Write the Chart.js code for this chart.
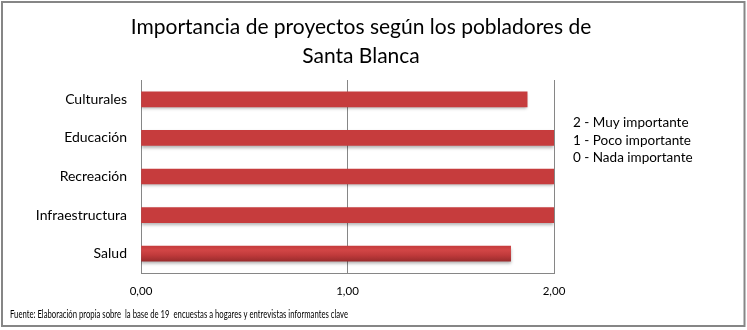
<!DOCTYPE html>
<html>
<head>
<meta charset="utf-8">
<script src="https://cdn.jsdelivr.net/npm/chart.js@4"></script>
<style>
  body { margin: 0; background: #fff; }
  canvas { display: block; }
</style>
</head>
<body>
<canvas id="chart" width="747" height="330"></canvas>
<script>
const categories = ["Culturales", "Educación", "Recreación", "Infraestructura", "Salud"];
const values = [1.87, 2.00, 2.00, 2.00, 1.79];
const xTickLabels = ["0,00", "1,00", "2,00"];
const titleLines = ["Importancia de proyectos según los pobladores de", "Santa Blanca"];
const legendLines = ["2 - Muy importante", "1 - Poco importante", "0 - Nada importante"];
const footnote = "Fuente: Elaboración propia sobre  la base de 19  encuestas a hogares y entrevistas informantes clave";

// texto fijo: marco, titulo, leyenda de escala y fuente
const decor = {
    id: "decor",
    afterDraw(chart) {
        const c = chart.ctx;
        c.save();
        c.strokeStyle = "#868686";
        c.lineWidth = 2;
        c.strokeRect(2, 2, 742.5, 324);

        c.fillStyle = "#000";
        c.textAlign = "center";
        c.textBaseline = "alphabetic";
        c.font = "21px Lato";
        c.fillText(titleLines[0], 361, 34, 464);
        c.fillText(titleLines[1], 361, 63);

        c.textAlign = "left";
        c.textBaseline = "middle";
        c.font = "13.5px Lato";
        legendLines.forEach((t, i) => c.fillText(t, 573, 123 + i * 17.5));

        c.font = "11px Lato";
        c.fillText(footnote, 10, 314, 338);
        c.restore();
    }
};

// degradado y sombra de las barras
const barStyle = {
    id: "barStyle",
    beforeDatasetsDraw(chart) {
        const c = chart.ctx;
        chart.getDatasetMeta(0).data.forEach(bar => {
            const top = bar.y - bar.height / 2;
            const g = c.createLinearGradient(0, top, 0, top + bar.height);
            g.addColorStop(0, "#c63c3d");
            g.addColorStop(0.25, "#d24646");
            g.addColorStop(0.6, "#c03a3b");
            g.addColorStop(1, "#9b2c2d");
            bar.options.backgroundColor = g;
        });
        c.save();
        c.shadowColor = "rgba(0,0,0,0.3)";
        c.shadowBlur = 3;
        c.shadowOffsetY = 2;
    },
    afterDatasetsDraw(chart) {
        chart.ctx.restore();
    }
};

new Chart(document.getElementById("chart").getContext("2d"), {
    type: "bar",
    data: {
        labels: categories,
        datasets: [{
            data: values,
            backgroundColor: "#c03a3b",
            barThickness: 15
        }]
    },
    options: {
        indexAxis: "y",
        responsive: false,
        animation: false,
        layout: { padding: { top: 80, left: 2, right: 193, bottom: 27 } },
        plugins: {
            legend: { display: false },
            tooltip: { enabled: false }
        },
        scales: {
            x: {
                min: 0,
                max: 2,
                ticks: {
                    stepSize: 1,
                    padding: 11,
                    color: "#000",
                    font: { family: "Lato", size: 11.5 },
                    callback: (v, i) => xTickLabels[i]
                },
                grid: { color: "#868686", drawTicks: false },
                border: { color: "#868686" },
                afterFit: s => { s.height = 30; }
            },
            y: {
                ticks: {
                    padding: 14,
                    color: "#000",
                    font: { family: "Lato", size: 14 }
                },
                grid: { display: false, drawTicks: false },
                border: { color: "#868686" },
                afterFit: s => { s.width = 139; }
            }
        }
    },
    plugins: [barStyle, decor]
});
</script>
</body>
</html>
